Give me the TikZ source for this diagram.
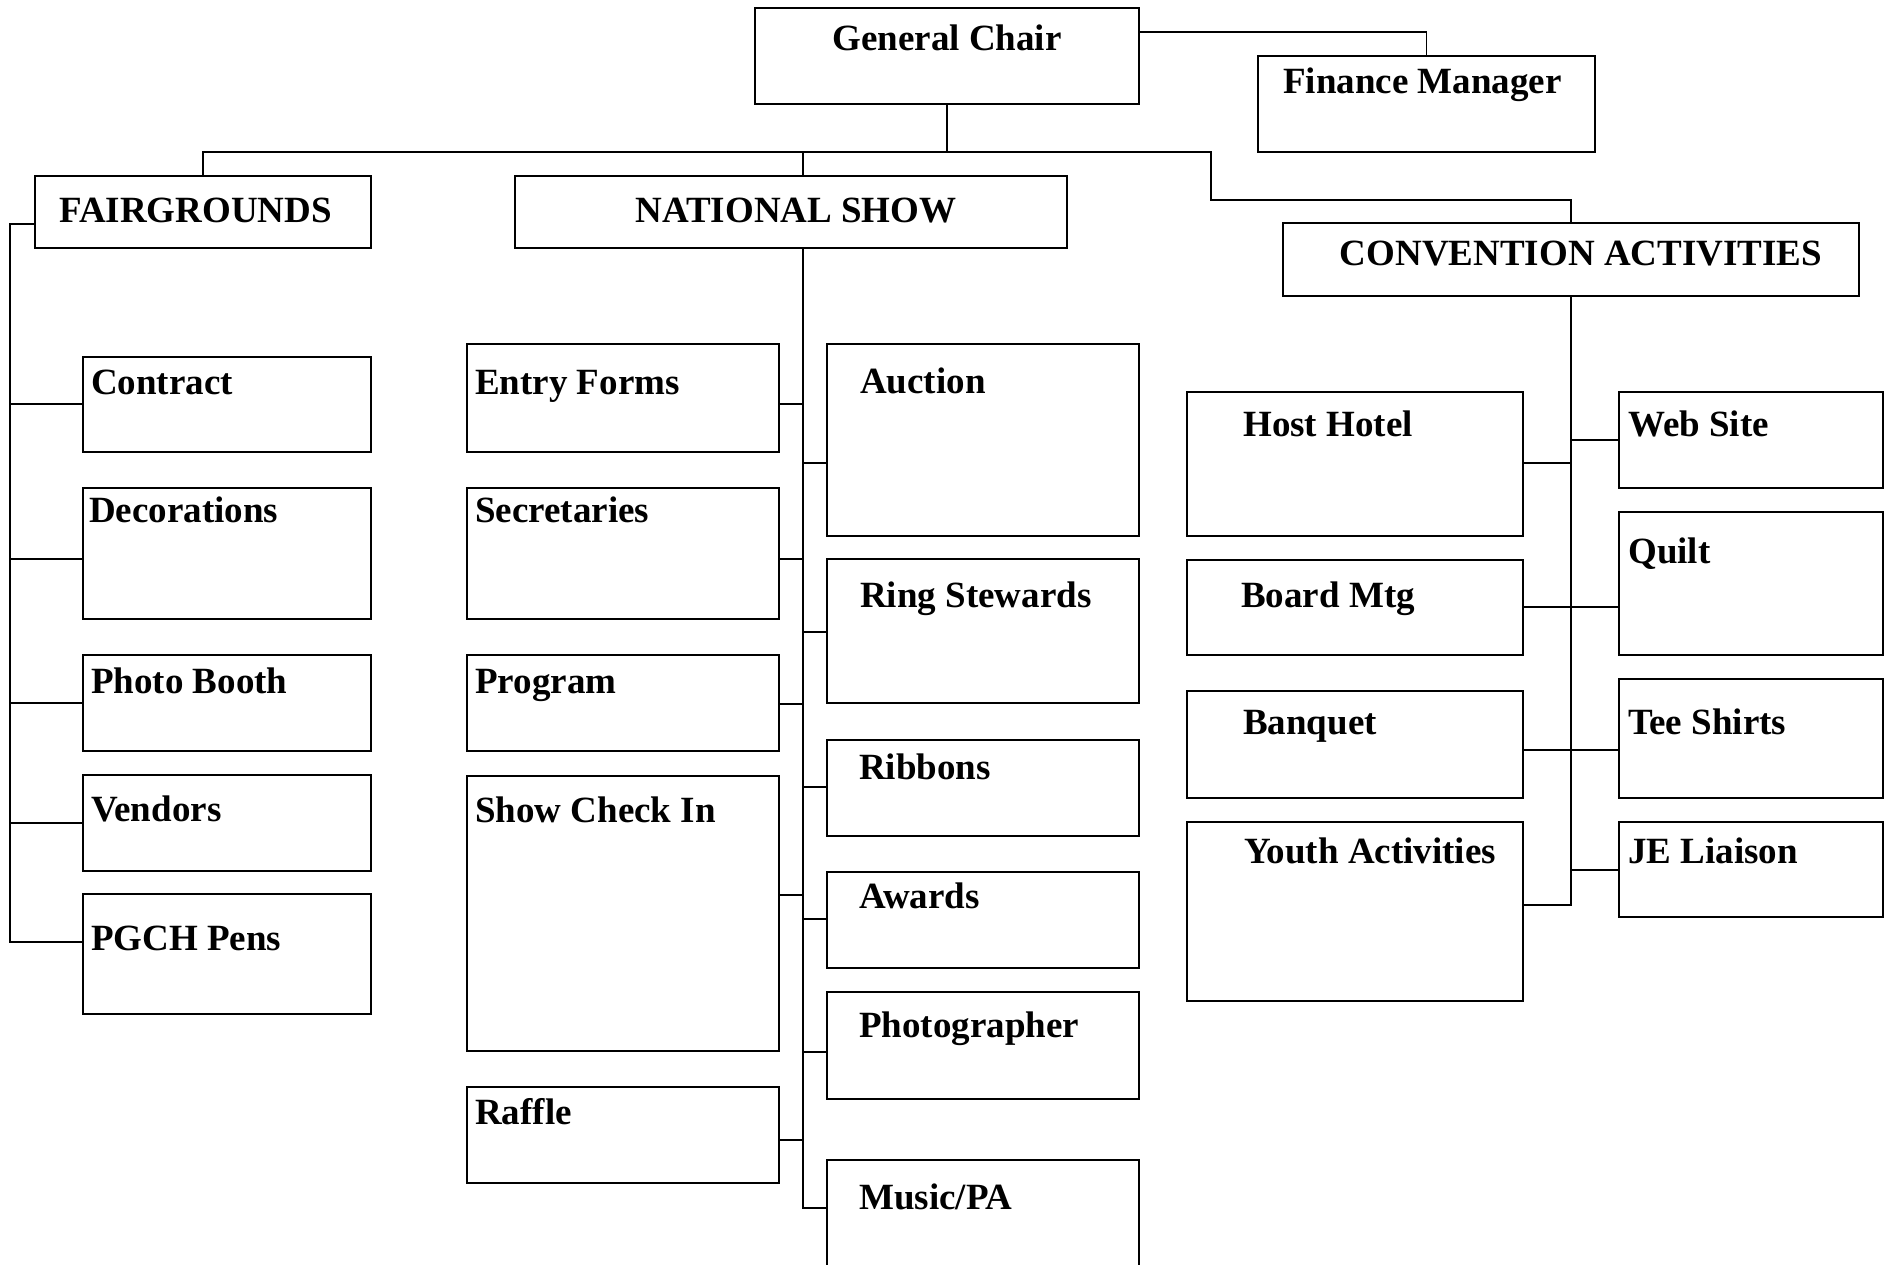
\documentclass[tikz,border=0pt]{standalone}
\usepackage{fontspec}
\setmainfont{Liberation Serif}

\tikzset{
	unit/.style={draw, line width=1.8pt, inner sep=0pt, outer sep=0pt, anchor=north west},
	tag/.style={font=\fontsize{37}{44}\selectfont\bfseries, inner sep=0pt, anchor=base west},
	link/.style={line width=1.8pt, line cap=rect},
}

\begin{document}
\begin{tikzpicture}[x=1pt, y=-1pt]
	\clip (0,0) rectangle (1889,1264);
	\fill[white] (0,0) rectangle (1889,1264);

	% top of the chart
	\node[unit, minimum width=384pt, minimum height=96pt] (gchair) at (755,8) {};
	\node[tag, anchor=base] (gchair-t) at (947,50) {General Chair};
	\node[unit, minimum width=337pt, minimum height=96pt] (finance) at (1258,56) {};
	\node[tag] (finance-t) at (1283,93) {Finance Manager};

	\node[unit, minimum width=336pt, minimum height=72pt] (fair) at (35,176) {};
	\node[tag] (fair-t) at (59,222) {FAIRGROUNDS};
	\node[unit, minimum width=552pt, minimum height=72pt] (natshow) at (515,176) {};
	\node[tag, anchor=base] (natshow-t) at (796,222) {NATIONAL SHOW};
	\node[unit, minimum width=576pt, minimum height=73pt] (conv) at (1283,223) {};
	\node[tag, anchor=base] (conv-t) at (1581,265) {CONVENTION ACTIVITIES};

	% fairgrounds
	\node[unit, minimum width=288pt, minimum height=95pt] (contract) at (83,357) {};
	\node[tag] (contract-t) at (91,394) {Contract};
	\node[unit, minimum width=288pt, minimum height=131pt] (decor) at (83,488) {};
	\node[tag] (decor-t) at (89,522) {Decorations};
	\node[unit, minimum width=288pt, minimum height=96pt] (photo) at (83,655) {};
	\node[tag] (photo-t) at (91,693) {Photo Booth};
	\node[unit, minimum width=288pt, minimum height=96pt] (vendors) at (83,775) {};
	\node[tag] (vendors-t) at (91,821) {Vendors};
	\node[unit, minimum width=288pt, minimum height=120pt] (pgch) at (83,894) {};
	\node[tag] (pgch-t) at (91,950) {PGCH Pens};

	% national show, left column
	\node[unit, minimum width=312pt, minimum height=108pt] (entry) at (467,344) {};
	\node[tag] (entry-t) at (475,394) {Entry Forms};
	\node[unit, minimum width=312pt, minimum height=131pt] (secr) at (467,488) {};
	\node[tag] (secr-t) at (475,522) {Secretaries};
	\node[unit, minimum width=312pt, minimum height=96pt] (program) at (467,655) {};
	\node[tag] (program-t) at (475,693) {Program};
	\node[unit, minimum width=312pt, minimum height=275pt] (checkin) at (467,776) {};
	\node[tag] (checkin-t) at (475,822) {Show Check In};
	\node[unit, minimum width=312pt, minimum height=96pt] (raffle) at (467,1087) {};
	\node[tag] (raffle-t) at (475,1124) {Raffle};

	% national show, right column
	\node[unit, minimum width=312pt, minimum height=192pt] (auction) at (827,344) {};
	\node[tag] (auction-t) at (860,393) {Auction};
	\node[unit, minimum width=312pt, minimum height=144pt] (ring) at (827,559) {};
	\node[tag] (ring-t) at (860,607) {Ring Stewards};
	\node[unit, minimum width=312pt, minimum height=96pt] (ribbons) at (827,740) {};
	\node[tag] (ribbons-t) at (859,779) {Ribbons};
	\node[unit, minimum width=312pt, minimum height=96pt] (awards) at (827,872) {};
	\node[tag] (awards-t) at (859,908) {Awards};
	\node[unit, minimum width=312pt, minimum height=107pt] (photog) at (827,992) {};
	\node[tag] (photog-t) at (859,1037) {Photographer};
	\node[unit, minimum width=312pt, minimum height=140pt] (music) at (827,1160) {};
	\node[tag] (music-t) at (859,1209) {Music/PA};

	% convention activities
	\node[unit, minimum width=336pt, minimum height=144pt] (hotel) at (1187,392) {};
	\node[tag] (hotel-t) at (1243,436) {Host Hotel};
	\node[unit, minimum width=336pt, minimum height=95pt] (board) at (1187,560) {};
	\node[tag] (board-t) at (1241,607) {Board Mtg};
	\node[unit, minimum width=336pt, minimum height=107pt] (banquet) at (1187,691) {};
	\node[tag] (banquet-t) at (1243,734) {Banquet};
	\node[unit, minimum width=336pt, minimum height=179pt] (youth) at (1187,822) {};
	\node[tag] (youth-t) at (1244,863) {Youth Activities};

	\node[unit, minimum width=264pt, minimum height=96pt] (web) at (1619,392) {};
	\node[tag] (web-t) at (1628,436) {Web Site};
	\node[unit, minimum width=264pt, minimum height=143pt] (quilt) at (1619,512) {};
	\node[tag] (quilt-t) at (1628,563) {Quilt};
	\node[unit, minimum width=264pt, minimum height=119pt] (tee) at (1619,679) {};
	\node[tag] (tee-t) at (1628,734) {Tee Shirts};
	\node[unit, minimum width=264pt, minimum height=95pt] (je) at (1619,822) {};
	\node[tag] (je-t) at (1628,863) {JE Liaison};

	% joints of the lines
	\coordinate (bus) at (947,152);
	\coordinate (nsjoin) at (803,152);
	\coordinate (elbow) at (1211,200);
	\coordinate (fs) at (10,224);
	\coordinate (fe) at (10,942);
	\coordinate (nsend) at (803,1208);
	\coordinate (caend) at (1571,905);

	\draw[link] (gchair.east |- 0,32) -| (finance.north);
	\draw[link] (gchair.south) -- (bus);
	\draw[link] (fair.north) |- (bus) -| (elbow) -| (conv.north);
	\draw[link] (nsjoin) -- (nsjoin |- natshow.north);

	\draw[link] (fair.west |- fs) -- (fs) -- (fe) -- (pgch.west |- fe);
	\draw[link]
		(fs |- 0,404) -- (contract.west |- 0,404)
		(fs |- 0,559) -- (decor.west |- 0,559)
		(fs |- 0,703) -- (photo.west |- 0,703)
		(fs |- 0,823) -- (vendors.west |- 0,823);

	\draw[link] (nsjoin |- natshow.south) -- (nsend) -- (music.west |- nsend);
	\draw[link]
		(entry.east |- 0,404) -- (nsjoin |- 0,404)
		(secr.east |- 0,559) -- (nsjoin |- 0,559)
		(program.east |- 0,704) -- (nsjoin |- 0,704)
		(checkin.east |- 0,895) -- (nsjoin |- 0,895)
		(raffle.east |- 0,1140) -- (nsjoin |- 0,1140)
		(nsjoin |- 0,463) -- (auction.west |- 0,463)
		(nsjoin |- 0,632) -- (ring.west |- 0,632)
		(nsjoin |- 0,787) -- (ribbons.west |- 0,787)
		(nsjoin |- 0,919) -- (awards.west |- 0,919)
		(nsjoin |- 0,1052) -- (photog.west |- 0,1052);

	\draw[link] (conv.south) -- (caend) -- (youth.east |- caend);
	\draw[link]
		(hotel.east |- 0,463) -- (caend |- 0,463)
		(board.east |- 0,607) -- (quilt.west |- 0,607)
		(banquet.east |- 0,750) -- (tee.west |- 0,750)
		(caend |- 0,440) -- (web.west |- 0,440)
		(caend |- 0,870) -- (je.west |- 0,870);
\end{tikzpicture}
\end{document}
